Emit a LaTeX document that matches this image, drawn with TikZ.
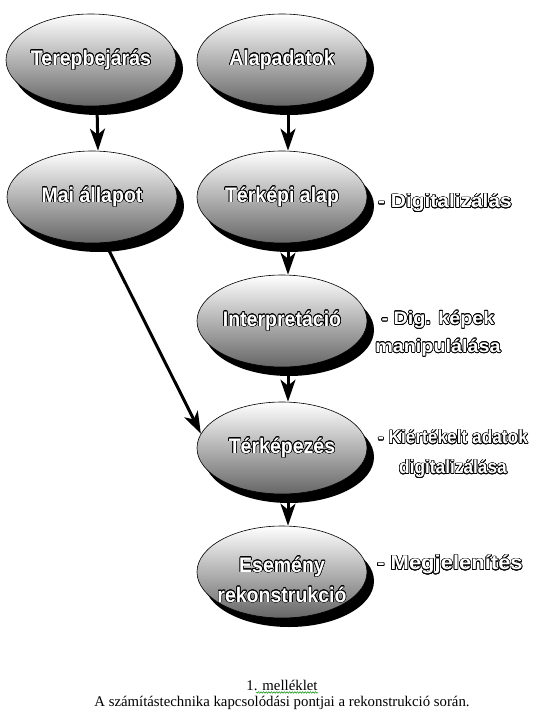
\documentclass[tikz,border=0pt]{standalone}
\usepackage{fontspec}
\setmainfont{Liberation Serif}
\newfontfamily\ellfont[FakeStretch=0.93]{Liberation Sans}
\newfontfamily\sidefont[FakeStretch=1.1]{Liberation Sans}
\newfontfamily\sidenarrow[FakeStretch=0.91]{Liberation Sans}
\usepackage{contour}
\contourlength{0.6pt}
\contournumber{20}
\newcommand{\outl}[1]{\contour{black}{#1}}
\usetikzlibrary{shapes.geometric,shadows,arrows.meta,decorations.pathmorphing}
\begin{document}
\begin{tikzpicture}[x=1pt,y=-1pt,
  ell/.style={ellipse, draw=black, line width=0.6pt, minimum width=170pt, minimum height=92pt, inner sep=0pt,
    top color=white, middle color=black!20, bottom color=black!60,
    drop shadow={shadow xshift=7pt, shadow yshift=-9pt, fill=black, opacity=1}},
  etext/.style={font=\ellfont\bfseries\fontsize{21}{30}\selectfont, text=white, align=center, inner sep=0pt},
  side/.style={font=\sidefont\bfseries\fontsize{19}{28}\selectfont, text=white, align=center, inner sep=0pt},
  sidenar/.style={side, font=\sidenarrow\bfseries\fontsize{19}{30}\selectfont},
  arr/.style={line width=3pt, -{Stealth[length=22pt,width=15pt,inset=6pt]}},
  captxt/.style={font=\fontsize{14.8}{18}\selectfont, inner sep=0pt},
  wavy/.style={draw=green!55!black, line width=0.5pt, decorate, decoration={snake, amplitude=0.8pt, segment length=2.6pt}}
]
\useasboundingbox (0,0) rectangle (546,728);

% ellipses
\node[ell, label={[etext]center:\outl{Terepbejárás}}] (terep) at (91,60) {};
\node[ell, label={[etext]center:\outl{Alapadatok}}] (alap) at (282,60) {};
\node[ell, label={[etext]center:\outl{Mai állapot}}] (mai) at (92,197) {};
\node[ell, label={[etext]center:\outl{Térképi alap}}] (tkp) at (282,197) {};
\node[ell, label={[etext]center:\outl{Interpretáció}}] (interp) at (282,321) {};
\node[ell, label={[etext]center:\outl{Térképezés}}] (terk) at (282,448) {};
\node[ell, label={[etext, yshift=-8pt]center:\outl{Esemény}\\\outl{rekonstrukció}}] (esem) at (282,572) {};

% connectors
\draw[arr] ([xshift=6pt]terep.south) -- ([xshift=6pt]mai.north);
\draw[arr] ([xshift=6pt]alap.south) -- ([xshift=6pt]tkp.north);
\draw[arr] ([xshift=6pt]tkp.south) -- ([xshift=6pt]interp.north);
\draw[arr] ([xshift=6pt]interp.south) -- ([xshift=6pt]terk.north);
\draw[arr] ([xshift=6pt]terk.south) -- ([xshift=6pt]esem.north);
\draw[arr] (mai.-74) -- (terk.170);

% side labels
\node[side] (s1) at (445,203) {\outl{- Digitalizálás}};
\node[side, font=\sidefont\bfseries\fontsize{18}{28}\selectfont] (s2) at (438,334) {\outl{- Dig. képek}\\\outl{manipulálása}};
\node[sidenar] (s3) at (453,454) {\outl{- Kiértékelt adatok}\\\outl{digitalizálása}};
\node[side, font=\sidefont\bfseries\fontsize{20}{28}\selectfont] (s4) at (450,565) {\outl{- Megjelenítés}};

% caption
\node[captxt] (cap1) at (282,685) {1. melléklet};
\node[captxt] (cap2) at (282,703) {A számítástechnika kapcsolódási pontjai a rekonstrukció során.};
\draw[wavy] ([yshift=-2pt]cap1.south east) -- ([yshift=-2pt,xshift=-62pt]cap1.south east);
\end{tikzpicture}
\end{document}
